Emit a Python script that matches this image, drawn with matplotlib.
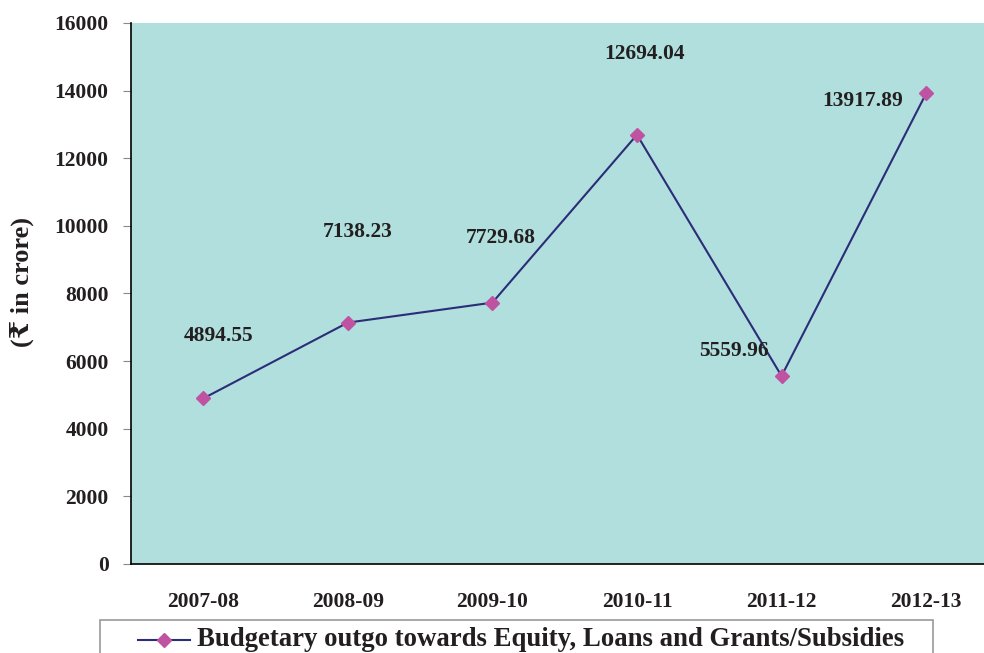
import matplotlib.pyplot as plt
from matplotlib.lines import Line2D
from matplotlib.patches import Rectangle

# budgetary outgo, Rs crore
years = ['2007-08', '2008-09', '2009-10', '2010-11', '2011-12', '2012-13']
outgo = [4894.55, 7138.23, 7729.68, 12694.04, 5559.96, 13917.89]
yticks = [0, 2000, 4000, 6000, 8000, 10000, 12000, 14000, 16000]
series_name = 'Budgetary outgo towards Equity, Loans and Grants/Subsidies'

# where each value label sits relative to its point (pixels)
label_offsets = [(15, 62), (10, 91), (8, 65), (8, 81), (-48, 25), (-64, -8)]

LINE_C = '#2b2d78'
MARK_C = '#c052a2'
TXT_C = '#231f20'

plt.rcParams['font.family'] = ['Liberation Serif', 'DejaVu Serif', 'DejaVu Sans']
plt.rcParams['font.weight'] = 'bold'

fig = plt.figure(figsize=(9.84, 6.53), dpi=100)
ax = fig.add_axes([0.133, 0.1363, 0.867, 0.8285])
ax.set_facecolor('#b0dfdd')

x = list(range(len(years)))
ax.plot(x, outgo, color=LINE_C, lw=1.5, marker='D', ms=7,
        markerfacecolor=MARK_C, markeredgecolor=MARK_C)

for xi, v, off in zip(x, outgo, label_offsets):
    ax.annotate('%.2f' % v, (xi, v), xytext=off, textcoords='offset pixels',
                ha='center', va='center', fontsize=15.5, fontweight='bold', color=TXT_C)

ax.set_xlim(-0.5, 5.4)
ax.set_ylim(0, 16000)
ax.set_yticks(yticks)
ax.set_xticks(x)
ax.set_xticklabels(years)
ax.tick_params(axis='y', length=6, color='#888888', labelsize=15.5, pad=10, labelcolor=TXT_C)
ax.tick_params(axis='x', length=0, labelsize=15.5, pad=20, labelcolor=TXT_C)
for lbl in ax.get_xticklabels() + ax.get_yticklabels():
    lbl.set_fontweight('bold')

for s in ['top', 'right']:
    ax.spines[s].set_visible(False)
for s in ['left', 'bottom']:
    ax.spines[s].set_color('black')
    ax.spines[s].set_linewidth(1.2)

fig.text(0.022, 0.568, '(₹ in crore)', rotation=90, ha='center', va='center',
         fontsize=19, fontweight='bold', color=TXT_C)

# legend box along the bottom edge
W, H = fig.get_size_inches() * fig.dpi
leg_y = 1 - 640 / H
fig.patches.append(Rectangle((100 / W, -0.05), 833 / W, 0.05 + (653 - 620) / H,
                             transform=fig.transFigure, fill=False,
                             edgecolor='#999999', lw=1.2))
fig.lines.append(Line2D([138 / W, 190 / W], [leg_y] * 2, transform=fig.transFigure,
                        color=LINE_C, lw=1.5))
fig.lines.append(Line2D([164 / W], [leg_y], transform=fig.transFigure, marker='D',
                        ms=7, color=MARK_C, lw=0))
fig.text(197 / W, leg_y, series_name, ha='left', va='center',
         fontsize=19.3, fontweight='bold', color=TXT_C)

plt.savefig('out.png', dpi=100)
plt.close()
